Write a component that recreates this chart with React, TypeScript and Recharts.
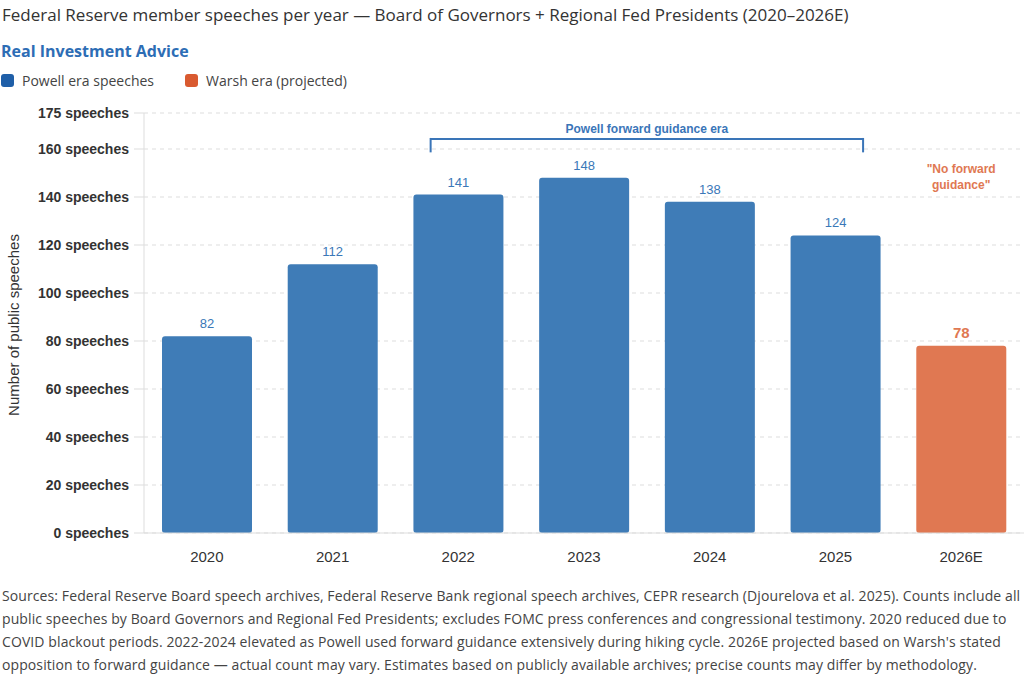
import React from 'react'
import { BarChart, Bar, XAxis, YAxis, CartesianGrid, Cell, LabelList, ReferenceLine, ReferenceDot } from 'recharts'

const years = ['2020', '2021', '2022', '2023', '2024', '2025', '2026E']
const speeches = [82, 112, 141, 148, 138, 124, 78]
const projected = [false, false, false, false, false, false, true]
const yTicks = [0, 20, 40, 60, 80, 100, 120, 140, 160, 175]

const BLUE = '#3f7cb7'
const ORANGE = '#e07852'
const LABEL_BLUE = '#3a78b8'

const footerLines = [
  'Sources: Federal Reserve Board speech archives, Federal Reserve Bank regional speech archives, CEPR research (Djourelova et al. 2025). Counts include all',
  'public speeches by Board Governors and Regional Fed Presidents; excludes FOMC press conferences and congressional testimony. 2020 reduced due to',
  "COVID blackout periods. 2022-2024 elevated as Powell used forward guidance extensively during hiking cycle. 2026E projected based on Warsh's stated",
  'opposition to forward guidance — actual count may vary. Estimates based on publicly available archives; precise counts may differ by methodology.',
]

const data = years.map((year, i) => ({
  year,
  speeches: speeches[i],
  projected: projected[i],
  idx: i + 0.5,
}))

const ValueLabel = (props: any) => {
  const { x, y, width, value, index } = props
  const proj = projected[index]
  return (
    <text
      x={x + width / 2}
      y={y - 8}
      textAnchor="middle"
      fontSize={proj ? 15 : 13}
      fontWeight={proj ? 700 : 400}
      fill={proj ? ORANGE : LABEL_BLUE}
      fontFamily="'Liberation Sans', Arial, sans-serif"
    >
      {value}
    </text>
  )
}

const App = () => {
  return (
    <div style={{ position: 'absolute', left: 0, top: 0, width: 1024, height: 682, background: '#fff', fontFamily: "'Open Sans', sans-serif" }}>
      <div style={{ position: 'absolute', left: 0, top: 0 }}>
        <BarChart width={1024} height={600} data={data} margin={{ top: 113, right: 0, left: 0, bottom: 37 }}>
          <CartesianGrid vertical={false} stroke="#dddddd" strokeDasharray="4 4" />
          <XAxis
            xAxisId="cat"
            dataKey="year"
            tickLine={false}
            axisLine={{ stroke: '#dddddd' }}
            height={30}
            tickMargin={12}
            tick={{ fontSize: 15, fill: '#333', fontFamily: "'Liberation Sans', Arial, sans-serif" }}
          />
          <XAxis xAxisId="n" type="number" dataKey="idx" domain={[0, 7]} hide />
          <YAxis
            width={144}
            domain={[0, 175]}
            ticks={yTicks}
            interval={0}
            tickSize={10}
            tickMargin={5}
            tickLine={{ stroke: '#dddddd' }}
            axisLine={{ stroke: '#dddddd' }}
            tickFormatter={(v: number) => `${v} speeches`}
            tick={{ fontSize: 14, fontWeight: 700, fill: '#333', fontFamily: "'Liberation Sans', Arial, sans-serif" }}
            label={{
              value: 'Number of public speeches',
              angle: -90,
              position: 'insideLeft',
              dx: 9,
              dy: 2,
              style: { textAnchor: 'middle', fontSize: 15, fill: '#333', fontFamily: "'Liberation Sans', Arial, sans-serif" },
            }}
          />
          <Bar xAxisId="cat" dataKey="speeches" barSize={90} radius={3} isAnimationActive={false}>
            {data.map((d) => (
              <Cell key={d.year} fill={d.projected ? ORANGE : BLUE} />
            ))}
            <LabelList dataKey="speeches" content={<ValueLabel />} />
          </Bar>
          {/* bracket over the forward guidance years */}
          <ReferenceLine
            xAxisId="n"
            segment={[{ x: 2.28, y: 164.2 }, { x: 5.72, y: 164.2 }]}
            stroke="#3a75b8"
            strokeWidth={2}
            ifOverflow="visible"
            label={{
              value: 'Powell forward guidance era',
              position: 'top',
              offset: 6,
              fill: '#3a75b8',
              fontSize: 12,
              fontWeight: 700,
              fontFamily: "'Liberation Sans', Arial, sans-serif",
            }}
          />
          <ReferenceLine xAxisId="n" segment={[{ x: 2.28, y: 164.6 }, { x: 2.28, y: 158.6 }]} stroke="#3a75b8" strokeWidth={2} ifOverflow="visible" />
          <ReferenceLine xAxisId="n" segment={[{ x: 5.72, y: 164.6 }, { x: 5.72, y: 158.6 }]} stroke="#3a75b8" strokeWidth={2} ifOverflow="visible" />
          <ReferenceDot
            xAxisId="n"
            x={6.5}
            y={151.6}
            r={0}
            fill="none"
            stroke="none"
            ifOverflow="visible"
            label={{ value: '"No forward', position: 'center', fill: ORANGE, fontSize: 12, fontWeight: 700, fontFamily: "'Liberation Sans', Arial, sans-serif" }}
          />
          <ReferenceDot
            xAxisId="n"
            x={6.5}
            y={145.2}
            r={0}
            fill="none"
            stroke="none"
            ifOverflow="visible"
            label={{ value: 'guidance"', position: 'center', fill: ORANGE, fontSize: 12, fontWeight: 700, fontFamily: "'Liberation Sans', Arial, sans-serif" }}
          />
        </BarChart>
      </div>

      <div style={{ position: 'absolute', left: 2, top: 3, fontSize: 17, color: '#333', whiteSpace: 'nowrap' }}>
        Federal Reserve member speeches per year — Board of Governors + Regional Fed Presidents (2020–2026E)
      </div>
      <div style={{ position: 'absolute', left: 1, top: 40, fontSize: 16, fontWeight: 700, color: '#2d6db5', whiteSpace: 'nowrap' }}>
        Real Investment Advice
      </div>
      <div style={{ position: 'absolute', left: 1, top: 71, display: 'flex', alignItems: 'center', fontSize: 14, color: '#444' }}>
        <span style={{ width: 13, height: 13, borderRadius: 3, background: '#1f5fa8', display: 'inline-block', marginRight: 8 }} />
        <span style={{ marginRight: 31 }}>Powell era speeches</span>
        <span style={{ width: 13, height: 13, borderRadius: 3, background: '#d95a30', display: 'inline-block', marginRight: 8 }} />
        <span>Warsh era (projected)</span>
      </div>

      <div style={{ position: 'absolute', left: 2, top: 584, fontSize: 14, letterSpacing: 0.1, color: '#444', lineHeight: '23px' }}>
        {footerLines.map((line, i) => (
          <div key={i} style={{ whiteSpace: 'nowrap' }}>{line}</div>
        ))}
      </div>
    </div>
  )
}

export default App
